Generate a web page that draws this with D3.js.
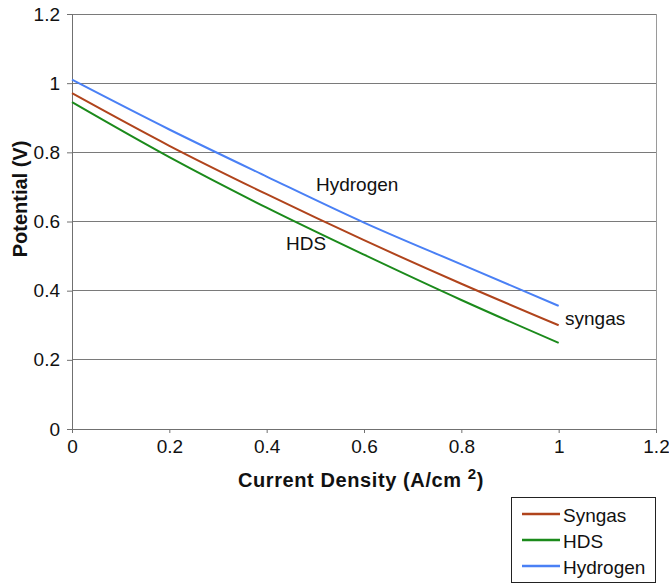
<!DOCTYPE html>
<html><head><meta charset="utf-8">
<script src="https://cdn.jsdelivr.net/npm/d3@7"></script>
<style>body{margin:0;background:#fff}svg{font-family:"Liberation Sans",Arial,sans-serif}</style>
</head><body><svg id="c" width="669" height="585"></svg>
<script>
const currentDensity = [0, 0.2, 0.4, 0.6, 0.8, 1.0];
const syngas   = [0.971, 0.819, 0.679, 0.546, 0.420, 0.300];
const hds      = [0.945, 0.786, 0.640, 0.504, 0.373, 0.249];
const hydrogen = [1.010, 0.866, 0.730, 0.597, 0.476, 0.356];
const seriesNames = ["Syngas", "HDS", "Hydrogen"];
const seriesColors = ["#b0441c", "#1b8a1b", "#4a80f5"];
const xTicks = [0, 0.2, 0.4, 0.6, 0.8, 1, 1.2];
const yTicks = [0, 0.2, 0.4, 0.6, 0.8, 1, 1.2];

const svg = d3.select("#c");
const L = 72, R = 656, T = 14, B = 429;
const x = d3.scaleLinear().domain([0, 1.2]).range([L, R]);
const y = d3.scaleLinear().domain([0, 1.2]).range([B, T]);

// gridlines
svg.append("g").selectAll("line").data(yTicks.filter(d => d > 0)).join("line")
  .attr("x1", L).attr("x2", R).attr("y1", d => y(d)).attr("y2", d => y(d))
  .attr("stroke", "#7a7a7a").attr("stroke-width", 1).attr("shape-rendering", "crispEdges");
// right border
svg.append("line").attr("x1", R).attr("x2", R).attr("y1", T).attr("y2", B)
  .attr("stroke", "#9a9a9a").attr("shape-rendering", "crispEdges");

const fmt = d => d3.format("")(+d.toFixed(1));
const xAxis = svg.append("g").attr("transform", `translate(0,${B})`)
  .call(d3.axisBottom(x).tickValues(xTicks).tickFormat(fmt).tickSize(4).tickPadding(7));
const yAxis = svg.append("g").attr("transform", `translate(${L},0)`)
  .call(d3.axisLeft(y).tickValues(yTicks).tickFormat(fmt).tickSize(5).tickPadding(7));
[xAxis, yAxis].forEach(a => {
  a.select(".domain").attr("stroke", "#707070");
  a.selectAll(".tick line").attr("stroke", "#707070");
  a.selectAll("text").attr("font-size", 19).attr("fill", "#111")
   .attr("font-family", "Liberation Sans, Arial, sans-serif");
});

const data = [syngas, hds, hydrogen];
const line = d3.line().x((d, i) => x(currentDensity[i])).y(d => y(d)).curve(d3.curveMonotoneX);
data.forEach((s, k) => {
  svg.append("path").datum(s).attr("d", line).attr("fill", "none")
    .attr("stroke", seriesColors[k]).attr("stroke-width", 2);
});

// inline labels
const lab = (t, xx, yy) => svg.append("text").attr("x", xx).attr("y", yy)
  .attr("font-size", 19).attr("fill", "#111").text(t);
lab("Hydrogen", 316, 191);
lab("HDS", 286, 250);
lab("syngas", 565, 325);

// axis titles
svg.append("text").attr("transform", "translate(27,199) rotate(-90)")
  .attr("text-anchor", "middle").attr("font-size", 20).attr("font-weight", "bold")
  .attr("fill", "#111").text("Potential (V)");
const xt = svg.append("text").attr("x", 361).attr("y", 487).attr("text-anchor", "middle")
  .attr("font-size", 20).attr("font-weight", "bold").attr("letter-spacing", 0.6).attr("fill", "#111");
xt.append("tspan").text("Current Density (A/cm ");
xt.append("tspan").attr("dy", -8).attr("font-size", 15).text("2");
xt.append("tspan").attr("dy", 8).text(")");

// legend
const lg = svg.append("g");
lg.append("rect").attr("x", 511.5).attr("y", 497.5).attr("width", 144).attr("height", 85)
  .attr("fill", "#fff").attr("stroke", "#222");
seriesNames.forEach((n, i) => {
  const yy = 514 + i * 26;
  lg.append("line").attr("x1", 522).attr("x2", 560).attr("y1", yy).attr("y2", yy)
    .attr("stroke", seriesColors[i]).attr("stroke-width", 2.5);
  lg.append("text").attr("x", 563).attr("y", yy + 7.5).attr("font-size", 19).attr("fill", "#111").text(n);
});
</script></body></html>
